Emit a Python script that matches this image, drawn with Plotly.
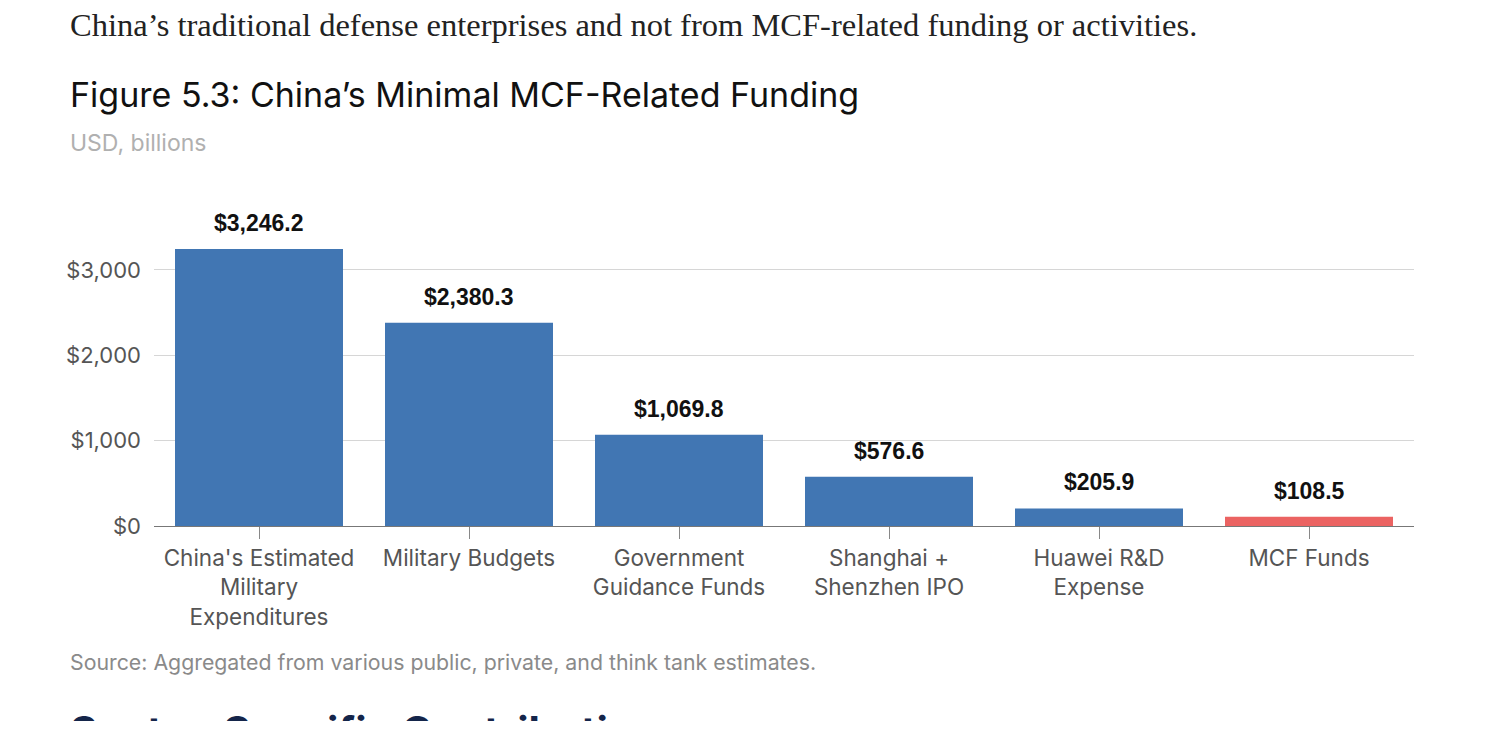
import plotly.graph_objects as go

categories = ["China's Estimated<br>Military<br>Expenditures", "Military Budgets",
              "Government<br>Guidance Funds", "Shanghai +<br>Shenzhen IPO",
              "Huawei R&D<br>Expense", "MCF Funds"]
values = [3246.2, 2380.3, 1069.8, 576.6, 205.9, 108.5]
bar_colors = ["#4176b3", "#4176b3", "#4176b3", "#4176b3", "#4176b3", "#eb6362"]
tick_vals = [0, 1000, 2000, 3000]
tick_text = ["$" + f"{t:,}" for t in tick_vals]

fig = go.Figure()
fig.add_trace(go.Bar(x=categories, y=values, marker_color=bar_colors,
                     marker_line_width=0, hoverinfo="skip"))

# value labels above bars
for c, v in zip(categories, values):
    fig.add_annotation(x=c, y=v, text="<b>$" + f"{v:,.1f}" + "</b>", showarrow=False,
                       yanchor="bottom", yshift=11,
                       font=dict(family="Liberation Sans, Arial", size=23, color="#111"))

# page text around the chart
left = -0.0683
fig.add_annotation(xref="paper", yref="paper", x=left, y=1.536, xanchor="left", yanchor="middle",
                   text="China’s traditional defense enterprises and not from MCF-related funding or activities.",
                   showarrow=False, font=dict(family="Liberation Serif, DejaVu Serif", size=32.5, color="#222"))
fig.add_annotation(xref="paper", yref="paper", x=left, y=1.325, xanchor="left", yanchor="middle",
                   text="Figure 5.3: China’s Minimal MCF-Related Funding",
                   showarrow=False, font=dict(family="Inter, Roboto", size=34, color="#111"))
fig.add_annotation(xref="paper", yref="paper", x=left, y=1.175, xanchor="left", yanchor="middle",
                   text="USD, billions",
                   showarrow=False, font=dict(family="Inter, Roboto", size=23, color="#b0b0b0"))
fig.add_annotation(xref="paper", yref="paper", x=left, y=-0.417, xanchor="left", yanchor="middle",
                   text="Source: Aggregated from various public, private, and think tank estimates.",
                   showarrow=False, font=dict(family="Inter, Roboto", size=21.3, color="#8a8a8a"))
fig.add_annotation(xref="paper", yref="paper", x=left, y=-0.546, xanchor="left", yanchor="top",
                   text="<b>Sector-Specific Contributions</b>",
                   showarrow=False, font=dict(family="Inter, Roboto", size=42, color="#14254a"))

fig.update_layout(
    width=1472, height=713,
    margin=dict(l=146, r=66, t=192, b=195),
    paper_bgcolor="white", plot_bgcolor="white",
    bargap=0.2, showlegend=False,
    xaxis=dict(ticks="outside", ticklen=12, tickcolor="#888", showgrid=False,
               showline=True, linecolor="#777", linewidth=1,
               tickfont=dict(family="Inter, Roboto", size=22.5, color="#555")),
    yaxis=dict(range=[0, 3820], tickmode="array", tickvals=tick_vals, ticktext=tick_text,
               showgrid=True, gridcolor="#d6d6d6", zeroline=False, ticks="",
               ticklabelstandoff=12,
               tickfont=dict(family="Inter, Roboto", size=22, color="#555")),
)

fig.write_html("out.html")
